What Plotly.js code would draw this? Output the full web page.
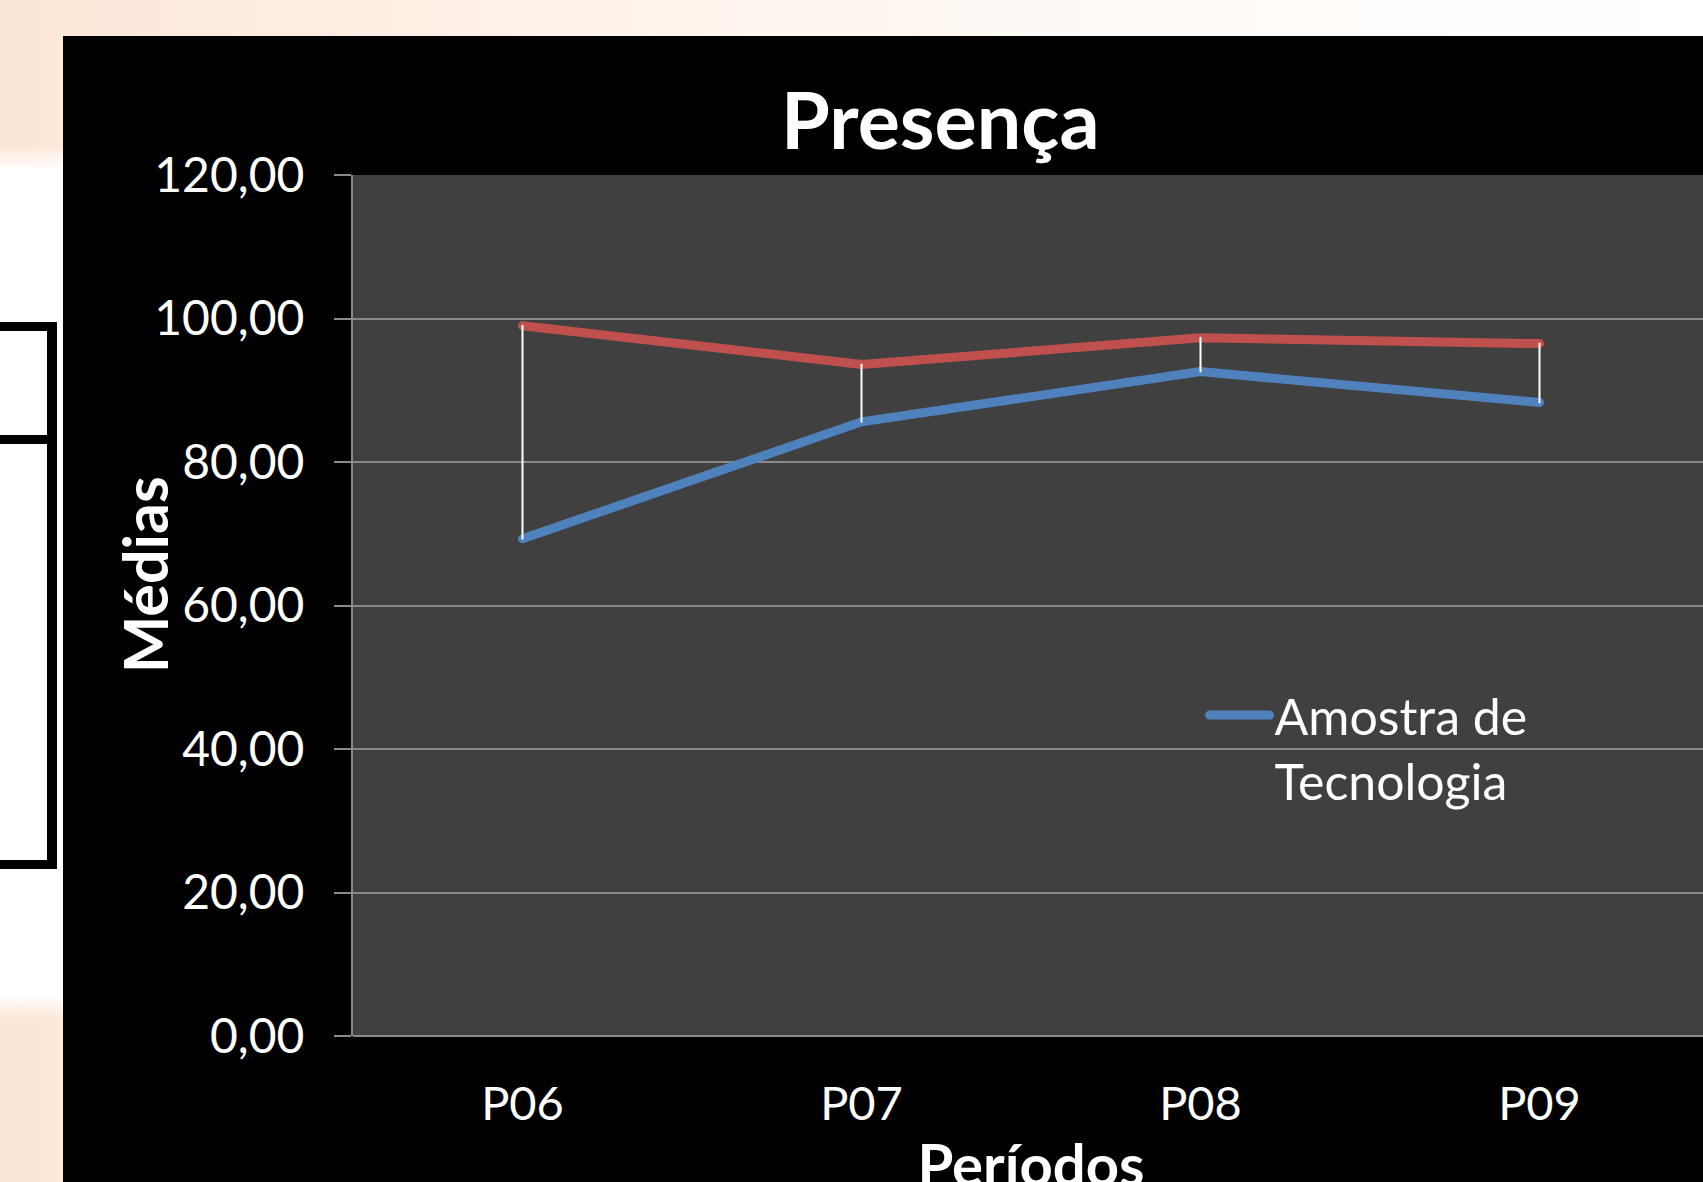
<!DOCTYPE html>
<html>
<head>
<meta charset="utf-8">
<script src="https://cdn.plot.ly/plotly-3.0.1.min.js"></script>
<style>
  html, body { margin: 0; padding: 0; }
  body {
    width: 1703px; height: 1182px; overflow: hidden; position: relative;
    background: linear-gradient(to right, #FCE6D6 0%, #FEF3EB 35%, #FFFBF8 70%, #FFFFFF 100%);
  }
  #whiteband {
    position: absolute; left: 0; top: 145px; width: 63px; height: 875px;
    background: linear-gradient(to bottom, rgba(255,255,255,0) 0px, #FFFFFF 25px, #FFFFFF 850px, rgba(255,255,255,0) 875px);
  }
  .br { position: absolute; background: #000; }
  #frame {
    position: absolute; left: 63px; top: 36px; width: 1640px; height: 1146px;
    background: #000; overflow: hidden;
  }
  #chart { position: absolute; left: 0; top: 0; width: 1646px; height: 1186px; }
  #chart .scatterlayer .js-line { stroke-linecap: round; }
  #chart .legend .js-line { stroke-width: 9px !important; stroke-linecap: round; }
</style>
</head>
<body>
<div id="whiteband"></div>
<div class="br" style="left:47px; top:322px; width:10px; height:547px;"></div>
<div class="br" style="left:0; top:322px; width:57px; height:9px;"></div>
<div class="br" style="left:0; top:435px; width:50px; height:9px;"></div>
<div class="br" style="left:0; top:860px; width:57px; height:9px;"></div>
<div id="frame"><div id="chart"></div></div>
<script>
  const periodos = ["P06", "P07", "P08", "P09"];
  const amostraTecnologia = [69.3, 85.6, 92.6, 88.3];
  const outraAmostra = [99.0, 93.6, 97.3, 96.5];

  // high-low lines built from the two series
  const hlX = [], hlY = [];
  periodos.forEach((p, i) => {
    hlX.push(p, p, null);
    hlY.push(outraAmostra[i], amostraTecnologia[i], null);
  });

  const FONT = "Lato, 'Open Sans', sans-serif";

  const traces = [
    {
      x: periodos, y: amostraTecnologia, type: "scatter", mode: "lines",
      name: "Amostra de<br>Tecnologia",
      line: { color: "#4F81BD", width: 9 },
      showlegend: true
    },
    {
      x: periodos, y: outraAmostra, type: "scatter", mode: "lines",
      name: "Outra amostra",
      line: { color: "#C0504D", width: 9 },
      showlegend: false
    },
    {
      x: hlX, y: hlY, type: "scatter", mode: "lines",
      line: { color: "#FFFFFF", width: 2 },
      showlegend: false, connectgaps: false
    }
  ];

  const H = 1186;
  const layout = {
    width: 1646, height: H,
    margin: { l: 290, r: 0, t: 139, b: 186, pad: 0 },
    paper_bgcolor: "#000000",
    plot_bgcolor: "#404040",
    separators: ",.",
    font: { family: FONT, color: "#FFFFFF", size: 48 },
    title: {
      text: "<b>Presença</b>",
      font: { family: FONT, size: 79, color: "#FFFFFF" },
      xref: "container", x: 0.533, xanchor: "center",
      yref: "container", y: 1 - 85 / H, yanchor: "middle"
    },
    xaxis: {
      type: "category",
      range: [-0.5, 3.5],
      showgrid: false,
      zeroline: false,
      showline: false,
      ticks: "",
      ticklabelstandoff: 36,
      tickfont: { family: FONT, size: 47, color: "#FFFFFF" },
      title: {
        text: "<b>Períodos</b>",
        font: { family: FONT, size: 58, color: "#FFFFFF" },
        standoff: 16
      }
    },
    yaxis: {
      range: [0, 120],
      tickvals: [0, 20, 40, 60, 80, 100, 120],
      tickformat: ".2f",
      showgrid: true,
      gridcolor: "#8A8A8A",
      gridwidth: 2,
      zeroline: true,
      zerolinecolor: "#8A8A8A",
      zerolinewidth: 2,
      showline: true,
      linecolor: "#8A8A8A",
      linewidth: 2,
      ticks: "outside",
      ticklen: 17,
      tickwidth: 2,
      tickcolor: "#8A8A8A",
      ticklabelstandoff: 20,
      tickfont: { family: FONT, size: 48, color: "#FFFFFF" }
    },
    annotations: [
      {
        text: "<b>Médias</b>",
        textangle: -90,
        xref: "paper", x: 0, xanchor: "center", xshift: -209,
        yref: "paper", y: 0.535, yanchor: "middle",
        showarrow: false,
        font: { family: FONT, size: 61, color: "#FFFFFF" }
      }
    ],
    showlegend: true,
    legend: {
      x: 0.628, y: 0.418, xanchor: "left", yanchor: "top",
      bgcolor: "rgba(0,0,0,0)",
      font: { family: FONT, size: 50, color: "#FFFFFF" },
      itemwidth: 60,
      valign: "top",
      tracegroupgap: 0
    },
    hovermode: false
  };

  Plotly.newPlot("chart", traces, layout, { staticPlot: true, displayModeBar: false });
</script>
</body>
</html>
